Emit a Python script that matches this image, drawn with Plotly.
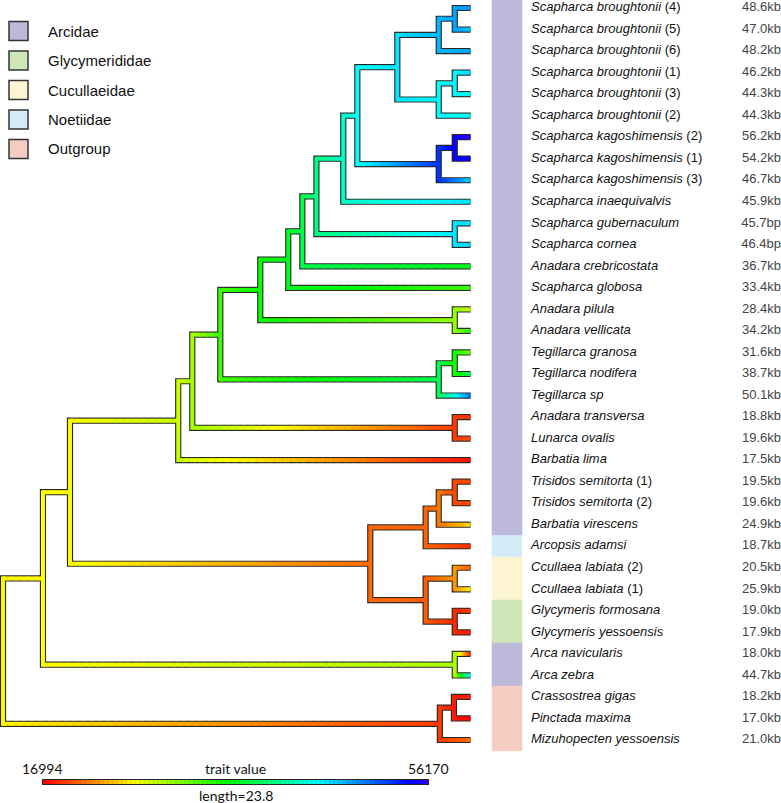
import colorsys
import numpy as np
import plotly.graph_objects as go

# ---------------- data ----------------
species = [
    "<i>Scapharca broughtonii</i> (4)", "<i>Scapharca broughtonii</i> (5)", "<i>Scapharca broughtonii</i> (6)",
    "<i>Scapharca broughtonii</i> (1)", "<i>Scapharca broughtonii</i> (3)", "<i>Scapharca broughtonii</i> (2)",
    "<i>Scapharca kagoshimensis</i> (2)", "<i>Scapharca kagoshimensis</i> (1)", "<i>Scapharca kagoshimensis</i> (3)",
    "<i>Scapharca inaequivalvis</i>", "<i>Scapharca gubernaculum</i>", "<i>Scapharca cornea</i>",
    "<i>Anadara crebricostata</i>", "<i>Scapharca globosa</i>", "<i>Anadara pilula</i>",
    "<i>Anadara vellicata</i>", "<i>Tegillarca granosa</i>", "<i>Tegillarca nodifera</i>",
    "<i>Tegillarca sp</i>", "<i>Anadara transversa</i>", "<i>Lunarca ovalis</i>",
    "<i>Barbatia lima</i>", "<i>Trisidos semitorta</i> (1)", "<i>Trisidos semitorta</i> (2)",
    "<i>Barbatia virescens</i>", "<i>Arcopsis adamsi</i>", "<i>Ccullaea labiata</i> (2)",
    "<i>Ccullaea labiata</i> (1)", "<i>Glycymeris formosana</i>", "<i>Glycymeris yessoensis</i>",
    "<i>Arca navicularis</i>", "<i>Arca zebra</i>", "<i>Crassostrea gigas</i>",
    "<i>Pinctada maxima</i>", "<i>Mizuhopecten yessoensis</i>",
]
size_labels = [
    "48.6kb", "47.0kb", "48.2kb", "46.2kb", "44.3kb", "44.3kb", "56.2kb", "54.2kb", "46.7kb",
    "45.9kb", "45.7bp", "46.4bp", "36.7kb", "33.4kb", "28.4kb", "34.2kb", "31.6kb", "38.7kb",
    "50.1kb", "18.8kb", "19.6kb", "17.5kb", "19.5kb", "19.6kb", "24.9kb", "18.7kb", "20.5kb",
    "25.9kb", "19.0kb", "17.9kb", "18.0kb", "44.7kb", "18.2kb", "17.0kb", "21.0kb",
]
tip_values = [
    48600, 47000, 48200, 46200, 44300, 44300, 56170, 54200, 46700,
    45900, 45700, 46400, 36700, 33400, 28400, 34200, 31600, 38700,
    50100, 18800, 19600, 17500, 19500, 19600, 24900, 18700, 20500,
    25900, 19000, 17900, 18000, 44700, 18200, 16994, 21000,
]
families = (["Arcidae"] * 25 + ["Noetiidae"] + ["Cucullaeidae"] * 2 +
            ["Glycymerididae"] * 2 + ["Arcidae"] * 2 + ["Outgroup"] * 3)
legend_names = ["Arcidae", "Glycymerididae", "Cucullaeidae", "Noetiidae", "Outgroup"]
family_colors = {"Arcidae": "#bdb9db", "Glycymerididae": "#cde6b8", "Cucullaeidae": "#fdf5d2",
                 "Noetiidae": "#d3ecf7", "Outgroup": "#f4ccc2"}

trait_min, trait_max = 16994, 56170
tree_length = 23.8        # colour bar length in tree units
tip_depth = 28.9

# internal nodes: name, depth (tree units), estimated ancestral value, child1, child2
nodes = [
    ("root", 0.0, 26000, "A", "OUT"),
    ("OUT", 27.0, 19100, "OUT1", 34),
    ("OUT1", 27.87, 17900, 32, 33),
    ("A", 2.47, 26300, "B", "ARCA"),
    ("ARCA", 27.92, 29400, 30, 31),
    ("B", 4.14, 26600, "C", "D"),
    ("D", 22.7, 20900, "D1", "D2"),
    ("D1", 26.12, 20700, "D1a", 25),
    ("D1a", 26.93, 21300, "TRIS", 24),
    ("TRIS", 27.92, 19600, 22, 23),
    ("D2", 26.12, 20400, "CUL", "GLY"),
    ("CUL", 27.92, 22400, 26, 27),
    ("GLY", 27.92, 18500, 28, 29),
    ("C", 10.83, 28200, "E", 21),
    ("E", 11.7, 29700, "F", "TRANS"),
    ("TRANS", 27.92, 19200, 19, 20),
    ("F", 13.43, 33300, "G", "TEG"),
    ("TEG", 26.93, 38700, "TEG1", 18),
    ("TEG1", 27.92, 34900, 16, 17),
    ("G", 15.9, 35300, "H", "PIL"),
    ("PIL", 27.92, 30200, 14, 15),
    ("H", 17.63, 36900, "I", 13),
    ("I", 18.5, 38400, "N", 12),
    ("N", 19.37, 40300, "M", "GUB"),
    ("GUB", 27.92, 45900, 10, 11),
    ("M", 21.03, 43100, "L", 9),
    ("L", 21.9, 44700, "K", "KAGO"),
    ("KAGO", 26.93, 52400, "KAGO1", 8),
    ("KAGO1", 27.92, 54600, 6, 7),
    ("K", 24.37, 45900, "BA", "BB"),
    ("BA", 26.93, 47500, "BA1", 2),
    ("BA1", 27.92, 48400, 0, 1),
    ("BB", 26.93, 45000, "BB1", 5),
    ("BB1", 27.92, 45300, 3, 4),
]

# ---------------- helpers ----------------
W, H = 781, 803
PX_PER_X = 16.18   # px per tree unit
TOP_TIP_PX = 8.0
PX_PER_Y = (740.0 - TOP_TIP_PX) / 34.0   # px per tip
x_lo = -3.0 / PX_PER_X
x_hi = x_lo + W / PX_PER_X
y_top = -TOP_TIP_PX / PX_PER_Y
y_bot = y_top + H / PX_PER_Y


def ypx(py):
    """convert a vertical pixel position to tip-index units"""
    return (py - TOP_TIP_PX) / PX_PER_Y


node_map = {n[0]: n for n in nodes}
ycache = {}


def get(c):
    if isinstance(c, int):
        return tip_depth, float(c), tip_values[c]
    name, d, v, c1, c2 = node_map[c]
    if c not in ycache:
        ycache[c] = (get(c1)[1] + get(c2)[1]) / 2.0
    return d, ycache[c], v


def frac(v):
    return min(1.0, max(0.0, (v - trait_min) / (trait_max - trait_min)))


NB = 256


def bin_color(b):
    r, g, bb = colorsys.hsv_to_rgb(0.7 * b / (NB - 1), 1, 1)
    return f"rgb({int(r*255)},{int(g*255)},{int(bb*255)})"


bins = {}


def add_seg(x0, x1, y0, y1, v):
    b = int(round(frac(v) * (NB - 1)))
    xs, ys = bins.setdefault(b, ([], []))
    xs += [x0, x1, None]
    ys += [y0, y1, None]


def add_gradient(x0, x1, y, v0, v1, step=0.07):
    n = max(2, int(abs(x1 - x0) / step))
    ov = 0.25 * abs(x1 - x0) / n
    for k in range(n):
        a = x0 + (x1 - x0) * k / n
        b = x0 + (x1 - x0) * (k + 1) / n
        vm = v0 + (v1 - v0) * (k + 0.5) / n
        add_seg(max(x0, a - ov), min(x1, b + ov), y, y, vm)


outline_x, outline_y = [], []
vert_ext = 2.0 / PX_PER_Y
for name, d, v, c1, c2 in nodes:
    d1, y1, v1 = get(c1)
    d2, y2, v2 = get(c2)
    outline_x += [d1, d, d, d2, None]
    outline_y += [y1, y1, y2, y2, None]
    add_gradient(d, d1, y1, v, v1)
    add_gradient(d, d2, y2, v, v2)

verts = []
for name, d, v, c1, c2 in nodes:
    y1 = get(c1)[1]
    y2 = get(c2)[1]
    verts.append((d, y1 - vert_ext, y2 + vert_ext, v))

# colour bar
cbar_x0 = 2.47
cbar_x1 = cbar_x0 + tree_length
cbar_y = ypx(782)
nc = 300
for k in range(nc):
    a = cbar_x0 + tree_length * k / nc
    b = cbar_x0 + tree_length * (k + 1.3) / nc
    add_seg(a, min(b, cbar_x1), cbar_y, cbar_y, trait_min + (trait_max - trait_min) * (k + 0.5) / nc)

fig = go.Figure()

# family bars
bar_x0 = (492 - 3) / PX_PER_X
bar_w = 30 / PX_PER_X
fam_cols = [family_colors[f] for f in families]
fig.add_trace(go.Bar(
    y=list(range(len(species))), x=[bar_w] * len(species), base=[bar_x0] * len(species),
    orientation="h", width=1.0, marker=dict(color=fam_cols, line=dict(color=fam_cols, width=0.6)),
    hoverinfo="skip", showlegend=False))

# outlines
ox_pad = 1.0 / PX_PER_X
fig.add_trace(go.Scatter(x=outline_x + [cbar_x0 - ox_pad, cbar_x1 + ox_pad, None],
                         y=outline_y + [cbar_y, cbar_y, None], mode="lines",
                         line=dict(color="#262626", width=6.2), hoverinfo="skip", showlegend=False))

# coloured segments
for b in sorted(bins):
    xs, ys = bins[b]
    fig.add_trace(go.Scatter(x=xs, y=ys, mode="lines", line=dict(color=bin_color(b), width=4),
                             hoverinfo="skip", showlegend=False))
# vertical connectors
vbins = {}
for d, ya, yb, v in verts:
    b = int(round(frac(v) * (NB - 1)))
    xs, ys = vbins.setdefault(b, ([], []))
    xs += [d, d, None]
    ys += [ya, yb, None]
for b in sorted(vbins):
    xs, ys = vbins[b]
    fig.add_trace(go.Scatter(x=xs, y=ys, mode="lines", line=dict(color=bin_color(b), width=4),
                             hoverinfo="skip", showlegend=False))

# labels
label_x = (531 - 3) / PX_PER_X
value_x = (781 - 3) / PX_PER_X
fig.add_trace(go.Scatter(x=[label_x] * len(species), y=list(range(len(species))), text=species,
                         mode="text", textposition="middle right",
                         textfont=dict(family="Liberation Sans, Arial", size=13, color="#111111"),
                         hoverinfo="skip", showlegend=False))
fig.add_trace(go.Scatter(x=[value_x] * len(species), y=list(range(len(species))), text=size_labels,
                         mode="text", textposition="middle left",
                         textfont=dict(family="Liberation Sans, Arial", size=13, color="#444444"),
                         hoverinfo="skip", showlegend=False))

shapes, annotations = [], []
for k, nm in enumerate(legend_names):
    cy = 31 + 29.5 * k
    shapes.append(dict(type="rect", xref="paper", yref="paper",
                       x0=9 / W, x1=28 / W, y0=1 - (cy + 9.5) / H, y1=1 - (cy - 9.5) / H,
                       fillcolor=family_colors[nm], line=dict(color="#333333", width=1.5)))
    annotations.append(dict(text=nm, xref="paper", yref="paper", x=46 / W, y=1 - cy / H,
                            xanchor="left", yanchor="middle", showarrow=False,
                            font=dict(family="Liberation Sans, Arial", size=15, color="#111111")))

cb_font = dict(family="Lato, Open Sans", size=14, color="#111111")
y_lab = ypx(768)
y_len = ypx(795)
annotations += [
    dict(text=str(trait_min), x=cbar_x0, y=y_lab, xref="x", yref="y", showarrow=False,
         xanchor="center", yanchor="middle", font=cb_font),
    dict(text=str(trait_max), x=cbar_x1, y=y_lab, xref="x", yref="y", showarrow=False,
         xanchor="center", yanchor="middle", font=cb_font),
    dict(text="trait value", x=(cbar_x0 + cbar_x1) / 2, y=y_lab, xref="x", yref="y", showarrow=False,
         xanchor="center", yanchor="middle", font=cb_font),
    dict(text=f"length={tree_length}", x=(cbar_x0 + cbar_x1) / 2, y=y_len, xref="x", yref="y",
         showarrow=False, xanchor="center", yanchor="middle", font=cb_font),
]

fig.update_layout(
    width=W, height=H, margin=dict(l=0, r=0, t=0, b=0),
    paper_bgcolor="white", plot_bgcolor="white", showlegend=False,
    xaxis=dict(range=[x_lo, x_hi], visible=False, fixedrange=True),
    yaxis=dict(range=[y_bot, y_top], visible=False, fixedrange=True),
    shapes=shapes, annotations=annotations,
)
fig.write_html("out.html", config={"displayModeBar": False},
               post_script="document.body.style.margin='0';document.body.style.overflow='hidden';"
                           "document.documentElement.style.overflow='hidden';")
